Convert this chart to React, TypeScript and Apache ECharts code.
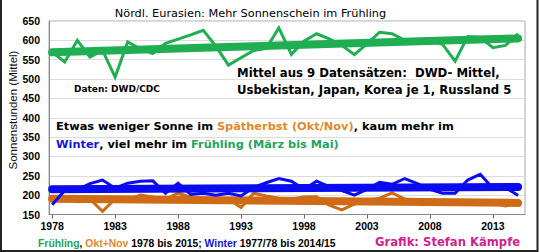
import React, { useEffect, useRef } from "react";
import * as echarts from "echarts";

// ---- data ----
const years = [
  1978, 1979, 1980, 1981, 1982, 1983, 1984, 1985, 1986, 1987,
  1988, 1989, 1990, 1991, 1992, 1993, 1994, 1995, 1996, 1997,
  1998, 1999, 2000, 2001, 2002, 2003, 2004, 2005, 2006, 2007,
  2008, 2009, 2010, 2011, 2012, 2013, 2014, 2015,
];
// Frühling (März bis Mai), Sonnenstunden
const fruehling = [
  570, 544, 600, 557, 574, 505, 596, 578, 566, 592,
  603, 614, 626, 585, 536, 555, 574, 579, 632, 564,
  598, 617, 604, 587, 563, 591, 621, 617, 600, 597,
  598, 590, 546, 610, 608, 581, 587, 617,
];
// Winter 1977/78 bis 2014/15
const winter = [
  175, 212, 214, 230, 239, 218, 231, 236, 237, 205,
  231, 202, 205, 200, 205, 198, 220, 232, 243, 236,
  215, 236, 222, 212, 200, 215, 233, 228, 243, 230,
  215, 205, 205, 239, 254, 218, 220, 199,
];
// Spätherbst (Okt+Nov)
const oktNov = [
  188, 195, 183, 190, 158, 190, 187, 200, 195, 190,
  205, 195, 190, 192, 190, 168, 205, 198, 192, 190,
  195, 196, 174, 162, 177, 187, 192, 206, 190, 186,
  184, 185, 183, 184, 182, 181, 172, 180,
];
// linear trends (start / end)
const trendYears = [1978, 2015];
const fruehlingTrend = [569, 605];
const winterTrend = [215, 221];
const oktNovTrend = [191, 180];

const xTickYears = [1978, 1983, 1988, 1993, 1998, 2003, 2008, 2013];
const yMin = 150;
const yMax = 650;
const yStep = 50;

// ---- styles ----
const GREEN = "#1fae52";
const GREEN_T = "#1fa45c";
const BLUE = "#0b0bf0";
const BLUE_T = "#1515d6";
const ORANGE = "#cf6b16";
const ORANGE_T = "#e0892a";
const MAGENTA = "#cf1f8f";
const DJ = "DejaVu Sans";
const LS = "Liberation Sans";

const pair = (xs: number[], ys: number[]) => xs.map((x, i) => [x, ys[i]]);

export default function App() {
  const ref = useRef<HTMLDivElement>(null);

  useEffect(() => {
    if (!ref.current) return;
    const chart = echarts.init(ref.current, undefined, { renderer: "svg" });

    const thin = (color: string, z: number, data: number[][]) => ({
      type: "line",
      data,
      symbol: "none",
      silent: true,
      z,
      lineStyle: { color, width: 3, join: "miter" },
    });
    const trend = (color: string, z: number, data: number[][]) => ({
      type: "line",
      data,
      symbol: "none",
      silent: true,
      z,
      lineStyle: { color, width: 8, cap: "round" },
    });

    chart.setOption({
      animation: false,
      backgroundColor: "#ffffff",
      grid: {
        left: 49,
        top: 21,
        right: 15,
        bottom: 37.5,
        show: true,
        borderColor: "#a8a8a8",
        borderWidth: 1,
        containLabel: false,
      },
      xAxis: {
        type: "value",
        min: 1977.75,
        max: 2015.55,
        splitLine: { show: false },
        axisLine: { show: true, lineStyle: { color: "#8a8a8a", width: 1 } },
        axisTick: {
          show: true,
          customValues: xTickYears,
          length: 4,
          lineStyle: { color: "#666" },
        },
        axisLabel: {
          customValues: xTickYears,
          formatter: (v: number) => String(v),
          color: "#000",
          fontFamily: LS,
          fontWeight: "bold",
          fontSize: 10.5,
          margin: 6,
        },
      },
      yAxis: {
        type: "value",
        min: yMin,
        max: yMax,
        interval: yStep,
        splitLine: { show: true, lineStyle: { color: "#dcdcdc", width: 1 } },
        axisLine: { show: true, lineStyle: { color: "#8a8a8a", width: 1 } },
        axisTick: { show: false },
        axisLabel: {
          color: "#000",
          fontFamily: LS,
          fontWeight: "bold",
          fontSize: 10.5,
          margin: 9,
        },
      },
      series: [
        thin(ORANGE, 2, pair(years, oktNov)),
        trend(ORANGE, 3, pair(trendYears, oktNovTrend)),
        thin(BLUE, 4, pair(years, winter)),
        trend(BLUE, 5, pair(trendYears, winterTrend)),
        thin(GREEN, 6, pair(years, fruehling)),
        trend(GREEN, 7, pair(trendYears, fruehlingTrend)),
      ],
      graphic: [
        {
          type: "polyline",
          silent: true,
          z: 100,
          shape: { points: [[1, 0], [1, 251], [537.5, 251], [537.5, 0]] },
          style: { stroke: "#222", lineWidth: 2, fill: "none" },
        },
        {
          type: "text",
          x: 250.5,
          y: 13,
          z: 50,
          style: {
            text: "Nördl. Eurasien: Mehr Sonnenschein im Frühling",
            fill: "#000",
            fontFamily: DJ,
            fontSize: 11.3,
            align: "center",
            verticalAlign: "middle",
          },
        },
        {
          type: "text",
          x: 13,
          y: 110,
          rotation: Math.PI / 2,
          z: 50,
          style: {
            text: "Sonnenstunden (Mittel)",
            fill: "#111",
            fontFamily: LS,
            fontSize: 11.5,
            align: "center",
            verticalAlign: "middle",
          },
        },
        {
          type: "text",
          x: 74,
          y: 89.3,
          z: 50,
          style: {
            text: "Daten: DWD/CDC",
            fill: "#000",
            fontFamily: DJ,
            fontWeight: "bold",
            fontSize: 9,
            align: "left",
            verticalAlign: "middle",
          },
        },
        {
          type: "text",
          x: 237,
          y: 72.5,
          z: 50,
          style: {
            text: "Mittel aus 9 Datensätzen:  DWD- Mittel,",
            fill: "#000",
            fontFamily: DJ,
            fontWeight: "bold",
            fontSize: 11.7,
            align: "left",
            verticalAlign: "middle",
          },
        },
        {
          type: "text",
          x: 237,
          y: 90,
          z: 50,
          style: {
            text: "Usbekistan, Japan, Korea je 1, Russland 5",
            fill: "#000",
            fontFamily: DJ,
            fontWeight: "bold",
            fontSize: 11.7,
            align: "left",
            verticalAlign: "middle",
          },
        },
        {
          type: "text",
          x: 56,
          y: 126,
          z: 50,
          style: {
            text: "{k|Etwas weniger Sonne im }{o|Spätherbst (Okt/Nov)}{k|, kaum mehr im}",
            fontFamily: DJ,
            fontWeight: "bold",
            fontSize: 11.35,
            align: "left",
            verticalAlign: "middle",
            rich: {
              k: { fill: "#000", fontFamily: DJ, fontWeight: "bold", fontSize: 11.35 },
              o: { fill: ORANGE_T, fontFamily: DJ, fontWeight: "bold", fontSize: 11.35 },
            },
          },
        },
        {
          type: "text",
          x: 56,
          y: 143.5,
          z: 50,
          style: {
            text: "{b|Winter}{k|, viel mehr im }{g|Frühling (März bis Mai)}",
            fontFamily: DJ,
            fontWeight: "bold",
            fontSize: 11.35,
            align: "left",
            verticalAlign: "middle",
            rich: {
              k: { fill: "#000", fontFamily: DJ, fontWeight: "bold", fontSize: 11.35 },
              b: { fill: BLUE_T, fontFamily: DJ, fontWeight: "bold", fontSize: 11.35 },
              g: { fill: GREEN_T, fontFamily: DJ, fontWeight: "bold", fontSize: 11.35 },
            },
          },
        },
        {
          type: "text",
          x: 38,
          y: 243,
          z: 50,
          style: {
            text: "{g|Frühling}{k|, }{o|Okt+Nov}{k| 1978 bis 2015; }{b|Winter}{k| 1977/78 bis 2014/15}",
            fontFamily: LS,
            fontWeight: "bold",
            fontSize: 10.4,
            align: "left",
            verticalAlign: "middle",
            rich: {
              k: { fill: "#000", fontFamily: LS, fontWeight: "bold", fontSize: 10.4 },
              g: { fill: GREEN_T, fontFamily: LS, fontWeight: "bold", fontSize: 10.4 },
              o: { fill: ORANGE_T, fontFamily: LS, fontWeight: "bold", fontSize: 10.4 },
              b: { fill: BLUE_T, fontFamily: LS, fontWeight: "bold", fontSize: 10.4 },
            },
          },
        },
        {
          type: "text",
          x: 375,
          y: 242,
          z: 50,
          style: {
            text: "Grafik: Stefan Kämpfe",
            fill: MAGENTA,
            fontFamily: DJ,
            fontWeight: "bold",
            fontSize: 11.6,
            align: "left",
            verticalAlign: "middle",
          },
        },
      ],
    });

    return () => {
      chart.dispose();
    };
  }, []);

  return (
    <div
      ref={ref}
      style={{
        position: "fixed",
        left: 0,
        top: 0,
        width: 540,
        height: 252,
        background: "#fff",
      }}
    />
  );
}
